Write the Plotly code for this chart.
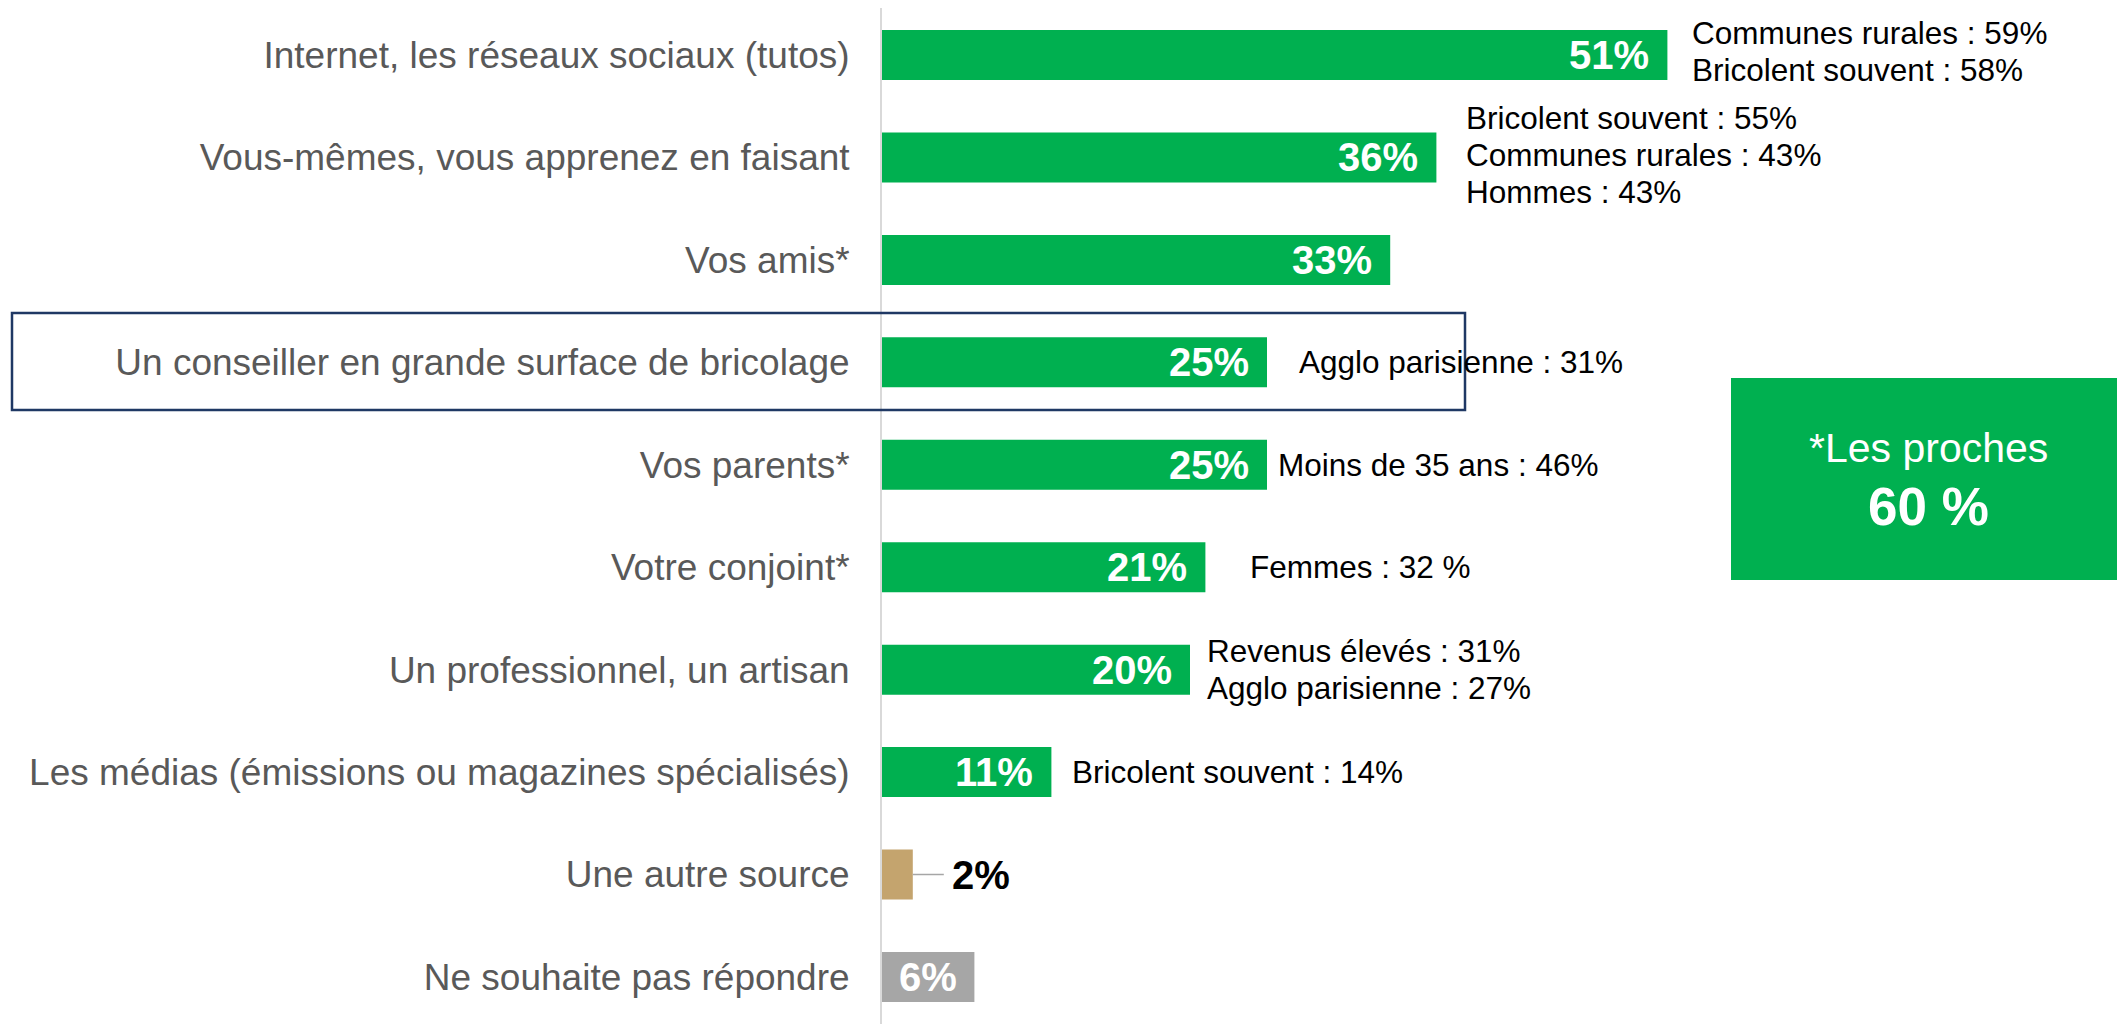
import plotly.graph_objects as go

# ---------------- data ----------------
categories = [
    "Internet, les réseaux sociaux (tutos)",
    "Vous-mêmes, vous apprenez en faisant",
    "Vos amis*",
    "Un conseiller en grande surface de bricolage",
    "Vos parents*",
    "Votre conjoint*",
    "Un professionnel, un artisan",
    "Les médias (émissions ou magazines spécialisés)",
    "Une autre source",
    "Ne souhaite pas répondre",
]
values = [51, 36, 33, 25, 25, 21, 20, 11, 2, 6]
value_labels = ["51%", "36%", "33%", "25%", "25%", "21%", "20%", "11%", "2%", "6%"]
subgroups = [
    ["Communes rurales : 59%", "Bricolent souvent : 58%"],
    ["Bricolent souvent : 55%", "Communes rurales : 43%", "Hommes : 43%"],
    [],
    ["Agglo parisienne : 31%"],
    ["Moins de 35 ans : 46%"],
    ["Femmes : 32 %"],
    ["Revenus élevés : 31%", "Agglo parisienne : 27%"],
    ["Bricolent souvent : 14%"],
    [],
    [],
]
box_title = "*Les proches"
box_value = "60 %"

# ---------------- styles ----------------
GREEN = "#00B050"
TAN = "#C4A46E"
GREY = "#A6A6A6"
bar_colors = [GREEN] * 8 + [TAN, GREY]
label_mode = ["inside"] * 8 + ["outside", "center"]
sub_xshift = [23, 28, 0, 30, 9, 43, 15, 19, 0, 0]
sub_yshift = [4, 2, 0, 0, 0, 0, 0, 0, 0, 0]
LINE_SP = 37
FONT = "Liberation Sans, Arial, sans-serif"

OFF = 8  # page body margin
W, H = 2125 - OFF, 1024 - OFF
ML, MR, MT, MB = 882 - OFF, 0, 0, 0
PX_PER_UNIT = 15.4
x_max = (W - ML - MR) / PX_PER_UNIT


def px_x(sx):
    return (sx - OFF - ML) / (W - ML - MR)


def px_y(sy):
    return 1 - (sy - OFF - MT) / (H - MT - MB)


fig = go.Figure()
fig.add_trace(go.Bar(
    x=values, y=categories, orientation="h",
    marker=dict(color=bar_colors, line=dict(width=0)),
    width=0.488, hoverinfo="skip",
))

ann = []
for i, (cat, v, lab) in enumerate(zip(categories, values, value_labels)):
    mode = label_mode[i]
    if mode == "inside":
        ann.append(dict(x=v, y=cat, xref="x", yref="y", text=lab, showarrow=False,
                        xanchor="right", yanchor="middle", xshift=-16,
                        font=dict(family=FONT, size=40, color="white", weight="bold")))
    elif mode == "center":
        ann.append(dict(x=v / 2, y=cat, xref="x", yref="y", text=lab, showarrow=False,
                        xanchor="center", yanchor="middle",
                        font=dict(family=FONT, size=40, color="white", weight="bold")))
    else:
        ann.append(dict(x=v, y=cat, xref="x", yref="y", text=lab, showarrow=True,
                        arrowhead=0, arrowwidth=1.5, arrowcolor=GREY, ax=31, ay=0,
                        xanchor="left", yanchor="middle", borderpad=7,
                        font=dict(family=FONT, size=40, color="black", weight="bold")))
    lines = subgroups[i]
    n = len(lines)
    for j, line in enumerate(lines):
        ys = -(j - (n - 1) / 2) * LINE_SP + sub_yshift[i]
        ann.append(dict(x=v, y=cat, xref="x", yref="y", text=line, showarrow=False,
                        xanchor="left", yanchor="middle", xshift=sub_xshift[i], yshift=ys,
                        font=dict(family=FONT, size=31.5, color="black")))

# box texts
ann.append(dict(x=px_x(1928), y=px_y(448), xref="paper", yref="paper", text=box_title,
                showarrow=False, xanchor="center", yanchor="middle",
                font=dict(family=FONT, size=41, color="white")))
ann.append(dict(x=px_x(1928), y=px_y(506), xref="paper", yref="paper", text=box_value,
                showarrow=False, xanchor="center", yanchor="middle",
                font=dict(family=FONT, size=53, color="white", weight="bold")))

shapes = [
    dict(type="rect", xref="paper", yref="paper",
         x0=px_x(1731), x1=px_x(2130), y0=px_y(580), y1=px_y(378),
         fillcolor=GREEN, line=dict(width=0), layer="below"),
    dict(type="rect", xref="paper", yref="paper",
         x0=px_x(12), x1=px_x(1465), y0=px_y(410), y1=px_y(313),
         fillcolor="rgba(0,0,0,0)", line=dict(color="#1F3864", width=2.5)),
]

fig.update_layout(
    width=W, height=H,
    margin=dict(l=ML, r=MR, t=MT, b=MB, pad=0),
    paper_bgcolor="white", plot_bgcolor="white",
    showlegend=False,
    annotations=ann, shapes=shapes,
    xaxis=dict(range=[0, x_max], visible=False, fixedrange=True),
    yaxis=dict(
        categoryorder="array", categoryarray=categories,
        range=[9.459, -0.459],
        showline=True, linecolor="#D9D9D9", linewidth=2,
        showgrid=False, zeroline=False, ticks="",
        ticklabelstandoff=23,
        tickfont=dict(family=FONT, size=37, color="#595959"),
        fixedrange=True,
    ),
)

fig.write_html("out.html")
